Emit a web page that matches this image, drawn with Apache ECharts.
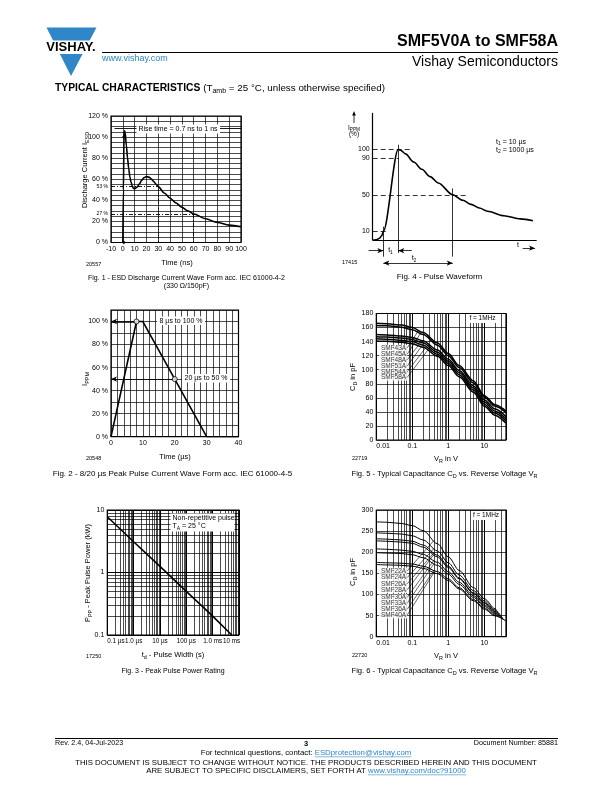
<!DOCTYPE html>
<html><head><meta charset="utf-8">
<script src="https://cdn.jsdelivr.net/npm/echarts@6/dist/echarts.min.js"></script>
<style>html,body{margin:0;padding:0;background:#fff}#c{width:612px;height:792px}</style>
</head><body><div id="c"></div>
<script>
// ---------------- DATA ----------------
// Fig. 1 - ESD discharge current wave form
const fig1Time    = [0, 0.5, 1, 1.5, 2, 3, 4, 5, 6, 7, 8, 9, 10, 12, 14, 16, 18, 20, 22, 24, 26, 28, 30, 35, 40, 45, 50, 55, 60, 70, 80, 90, 100];
const fig1Current = [0, 50, 100, 106, 104, 92, 80, 70, 62, 57, 53.5, 51.5, 51, 52.5, 55.5, 59, 61.5, 62.5, 62, 60.5, 58, 55.5, 53, 47, 42, 37.5, 33.5, 30, 27, 22.5, 19, 16.5, 15];
// Fig. 2 - 8/20 us pulse
const fig2Time    = [0, 8, 10, 30, 40];
const fig2Current = [0, 100, 100, 0, 0];
const fig2Marks   = [[8, 100], [20, 50]];
// Fig. 3 - Peak pulse power rating (pulse width in us, power in kW)
const fig3Width = [0.1, 1, 10, 100, 1000, 5300];
const fig3Power = [7.8, 3.1, 1.25, 0.5, 0.2, 0.1];
// Fig. 4 - Pulse waveform (relative time units, %)
const fig4Time    = [0, 2, 4, 5.5, 6.5, 15.6, 17, 20, 25, 30, 35, 40, 48.8, 55, 60, 65, 70, 80, 90, 97.7];
const fig4Current = [0, 0.5, 2, 5, 10, 100, 99, 95, 86, 78, 70, 63, 50, 44, 39.5, 35.5, 32, 27, 23.5, 21.5];
// Fig. 5 - capacitance vs reverse voltage
const fig5Voltage = [0.01, 0.02, 0.05, 0.1, 0.2, 0.5, 1, 2, 5, 10, 20, 40];
const fig5Names   = ['SMF43A', 'SMF45A', 'SMF48A', 'SMF51A', 'SMF54A', 'SMF58A'];
const fig5SMF43A  = [166, 165.5, 163.5, 160, 153, 138, 123, 106, 84, 63, 50, 41];
const fig5SMF45A  = [163, 162.5, 160.5, 157, 150, 135, 120, 103, 81, 61, 48, 39];
const fig5SMF48A  = [150, 149.5, 148, 146, 141, 128, 115, 99, 77, 57, 44, 33];
const fig5SMF51A  = [147, 146.5, 145, 143, 138, 125, 112, 96, 74, 54, 41, 30];
const fig5SMF54A  = [144, 143.5, 142, 140, 135, 122, 109, 93, 71, 51, 38, 27];
const fig5SMF58A  = [141, 140.5, 139, 137, 132, 119, 106, 90, 68, 48, 35, 24];
const fig5LabelV  = 0.072;
const fig5LabelC  = [131, 122, 114, 105, 97, 89];
const fig5LeaderV = [0.15, 0.17, 0.19, 0.21, 0.24, 0.27];
const fig5LeaderC = [156, 152, 142, 138, 132, 128];
// Fig. 6 - capacitance vs reverse voltage (last value is at the end voltage)
const fig6Voltage    = [0.01, 0.02, 0.05, 0.1, 0.2, 0.5, 1, 2, 5, 10, 20];
const fig6Names      = ['SMF22A', 'SMF24A', 'SMF26A', 'SMF28A', 'SMF30A', 'SMF33A', 'SMF36A', 'SMF40A'];
const fig6EndVoltage = [22, 24, 26, 28, 30, 33, 36, 40];
const fig6SMF22A = [272, 271, 268, 263, 251, 220, 189, 157, 116, 90, 66, 63];
const fig6SMF24A = [246, 245, 243, 239, 229, 203, 175, 146, 109, 85, 63, 59];
const fig6SMF26A = [232, 231, 229, 226, 217, 193, 167, 139, 104, 81, 60, 55];
const fig6SMF28A = [227, 226, 224, 221, 212, 189, 164, 137, 102, 79, 59, 52];
const fig6SMF30A = [208, 207, 205, 202, 195, 176, 154, 129, 97, 75, 56, 48];
const fig6SMF33A = [199, 198, 197, 194, 187, 169, 148, 124, 93, 72, 54, 44];
const fig6SMF36A = [176, 175, 174, 172, 167, 154, 137, 116, 88, 68, 51, 40];
const fig6SMF40A = [171, 170, 169, 167, 162, 149, 133, 113, 85, 65, 49, 37];
const fig6LabelV  = 0.072;
const fig6LabelC  = [156, 140, 125, 111, 93, 79, 65, 51];
const fig6LeaderV = [0.4, 0.4, 0.4, 0.4, 0.4, 0.4, 0.4, 0.4];
const fig6LeaderC = [228, 209, 199, 195, 181, 173, 157, 152];
// tick label texts
const fig3XLabels = {'0.1': '0.1 µs', '1': '1.0 µs', '10': '10 µs', '100': '100 µs', '1000': '1.0 ms', '10000': '{r|10 ms}'};
const fig3YLabels = {'0.1': '0.1', '1': '1', '10': '10'};
const capXLabels  = {'0.01': '0.01', '0.1': '0.1', '1': '1', '10': '10'};

// ---------------- HELPERS ----------------
const FONT = '"Liberation Sans", Arial, sans-serif';
const BLUE = '#2f86c8';
const ctx = document.createElement('canvas').getContext('2d');
function tw(t, size, bold) { ctx.font = (bold ? 'bold ' : '') + size + 'px "Liberation Sans"'; return ctx.measureText(t).width; }
function zip(a, b) { return a.map((v, i) => [v, b[i]]); }
function richStyles(size, color) {
  const c = color || '#000';
  return {
    n: {fontSize: size, lineHeight: size * 1.2, verticalAlign: 'middle', fontFamily: FONT, fill: c},
    s: {fontSize: size * 0.72, lineHeight: size * 0.86, padding: [size * 0.6, 0, 0, 0], verticalAlign: 'middle', fontFamily: FONT, fill: c},
    b: {fontSize: size, lineHeight: size * 1.2, verticalAlign: 'middle', fontFamily: FONT, fontWeight: 'bold', fill: c}
  };
}
function txt(x, y, text, o) {
  o = o || {};
  const st = {text: text, fontSize: o.size || 7, fontFamily: FONT, fontWeight: o.bold ? 'bold' : 'normal',
    fill: o.color || '#000', align: o.align || 'left', verticalAlign: o.va || 'middle'};
  if (o.rich) st.rich = richStyles(o.size || 7, o.color);
  return {type: 'text', x: x, y: y, rotation: o.rot || 0, z: 100, silent: true, style: st};
}
function rect(x, y, w, h) { return {type: 'rect', shape: {x: x, y: y, width: w, height: h}, style: {fill: '#fff'}, z: 99, silent: true}; }
function hline(x1, y1, x2, y2, w, color) { return {type: 'line', shape: {x1: x1, y1: y1, x2: x2, y2: y2}, style: {stroke: color || '#000', lineWidth: w || 1}, z: 100, silent: true}; }
function logMinor(fromExp, toExp, maxV) {
  const out = [];
  for (let e = fromExp; e < toExp; e++) for (let k = 2; k <= 9; k++) { const v = +(k * Math.pow(10, e)).toPrecision(3); if (v < maxV) out.push(v); }
  return out;
}
const splitLS = {show: true, lineStyle: {color: '#000', width: 0.7}};
const lbl = {fontSize: 7, color: '#000', fontFamily: FONT, margin: 3, showMinLabel: true, showMaxLabel: true, hideOverlap: false};
function gridOf(left, top, width, height, show) {
  return {left: left, top: top, width: width, height: height, show: show, borderColor: '#000', borderWidth: 1.2,
    containLabel: false, outerBoundsMode: 'none'};
}
function valAxis(gi, min, max, interval, fmt, extra) {
  return Object.assign({gridIndex: gi, type: 'value', min: min, max: max, interval: interval,
    axisLine: {show: false}, axisTick: {show: false}, splitLine: splitLS,
    axisLabel: Object.assign({}, lbl, {formatter: fmt})}, extra || {});
}
function logFmt(map) { return function (v) { const k = String(+(+v).toPrecision(3)); return map[k] !== undefined ? map[k] : ''; }; }
function logAxis(gi, min, max, map, extraLabel) {
  return {gridIndex: gi, type: 'log', logBase: 10, min: min, max: max,
    axisLine: {show: false}, axisTick: {show: false}, splitLine: {show: true, lineStyle: {color: '#000', width: 1}},
    axisLabel: Object.assign({}, lbl, {formatter: logFmt(map)}, extraLabel || {})};
}
const ML = function (data, extra) { return Object.assign({silent: true, symbol: 'none', symbolSize: [4, 6], animation: false, label: {show: false}, lineStyle: {color: '#000', width: 0.7, type: 'solid'}, data: data}, extra || {}); };
const dashdot = {color: '#000', width: 0.9, type: [4, 2, 1, 2]};
const dashed = {color: '#000', width: 0.8, type: [5, 3]};
const solid = function (w) { return {color: '#000', width: w || 0.8, type: 'solid'}; };
const startLbl = function (t, size) { return {show: true, position: 'start', formatter: t, fontSize: size || 7, color: '#000', fontFamily: FONT, distance: 3}; };

// ---------------- SERIES ----------------
const series = [];
// Fig 1
series.push({type: 'line', xAxisIndex: 0, yAxisIndex: 0, data: zip(fig1Time, fig1Current), symbol: 'none', smooth: 0.3, smoothMonotone: 'x',
  lineStyle: {color: '#000', width: 1.6}, z: 5,
  markLine: ML([
    [{coord: [-10, 53], lineStyle: dashdot, label: startLbl('53 %', 5)}, {coord: [30, 53]}],
    [{coord: [30, 53], lineStyle: {color: '#000', width: 0.9, type: [1.5, 1.5]}}, {coord: [30, 0]}],
    [{coord: [-10, 27], lineStyle: dashdot, label: startLbl('27 %', 5)}, {coord: [60, 27]}],
    [{coord: [60, 27], lineStyle: dashdot}, {coord: [60, 0]}],
    [{coord: [-7, 108], lineStyle: solid(0.9)}, {coord: [100, 108]}]
  ])});
series.push({type: 'scatter', xAxisIndex: 0, yAxisIndex: 0, data: [[0.9, 0], [0.9, 100]], symbol: 'diamond', symbolSize: 4,
  itemStyle: {color: '#000'}, silent: true, z: 6});
// Fig 4
series.push({type: 'line', xAxisIndex: 1, yAxisIndex: 1, data: zip(fig4Time, fig4Current), symbol: 'none', smooth: 0.3, smoothMonotone: 'x',
  lineStyle: {color: '#000', width: 1.6}, z: 5,
  markLine: ML([
    [{coord: [0, 0], lineStyle: solid(1.2)}, {coord: [0, 140]}],
    [{coord: [0, 0], lineStyle: solid(1.2)}, {coord: [100, 0]}],
    [{coord: [0, 100], lineStyle: dashed, label: startLbl('100')}, {coord: [22.7, 100]}],
    [{coord: [0, 90], lineStyle: dashed, label: startLbl('90')}, {coord: [15.6, 90]}],
    [{coord: [0, 50], lineStyle: dashed, label: startLbl('50')}, {coord: [57.3, 50]}],
    [{coord: [0, 10], lineStyle: dashed, label: startLbl('10')}, {coord: [8.5, 10]}],
    [{coord: [6.5, 15], lineStyle: solid(0.8)}, {coord: [6.5, -18]}],
    [{coord: [15.6, 105], lineStyle: solid(0.8)}, {coord: [15.6, -14]}],
    [{coord: [48.8, 57], lineStyle: solid(0.8)}, {coord: [48.8, -18]}],
    [{coord: [-2.5, -11.4], lineStyle: solid(0.8)}, {coord: [6.5, -11.4], symbol: 'arrow'}],
    [{coord: [23.8, -11.4], lineStyle: solid(0.8)}, {coord: [15.6, -11.4], symbol: 'arrow'}],
    [{coord: [6.5, -25], symbol: 'arrow', lineStyle: solid(0.8)}, {coord: [48.8, -25], symbol: 'arrow'}],
    [{coord: [91.5, -8.6], lineStyle: solid(0.8)}, {coord: [99, -8.6], symbol: 'arrow'}]
  ])});
// Fig 2
series.push({type: 'line', xAxisIndex: 2, yAxisIndex: 2, data: zip(fig2Time, fig2Current), symbol: 'none',
  lineStyle: {color: '#000', width: 1.6}, z: 5,
  markLine: ML([
    [{coord: [8, 100], lineStyle: solid(1.5)}, {coord: [0, 100], symbol: 'arrow'}],
    [{coord: [20, 50], lineStyle: solid(0.8)}, {coord: [0, 50], symbol: 'arrow'}]
  ])});
series.push({type: 'scatter', xAxisIndex: 2, yAxisIndex: 2, data: fig2Marks, symbol: 'circle', symbolSize: 5,
  itemStyle: {color: '#fff', borderColor: '#000', borderWidth: 1}, silent: true, z: 7});
// Fig 5
const fig5Curves = [fig5SMF43A, fig5SMF45A, fig5SMF48A, fig5SMF51A, fig5SMF54A, fig5SMF58A];
const capMinor = logMinor(-2, 2, 40).map(v => ({xAxis: v}));
fig5Names.forEach(function (name, i) {
  series.push({name: name, type: 'line', xAxisIndex: 3, yAxisIndex: 3, data: zip(fig5Voltage, fig5Curves[i]), symbol: 'none',
    smooth: 0.3, smoothMonotone: 'x', lineStyle: {color: '#000', width: 1.5}, z: 5,
    markLine: ML([[{coord: [fig5LabelV, fig5LabelC[i]], lineStyle: solid(0.6)}, {coord: [fig5LeaderV[i], fig5LeaderC[i]]}]]
      .concat(i === 0 ? capMinor : []))});
});
series.push({type: 'scatter', xAxisIndex: 3, yAxisIndex: 3, symbolSize: 0, silent: true, z: 8,
  data: fig5Names.map((n, i) => ({name: n, value: [fig5LabelV, fig5LabelC[i]]})),
  label: {show: true, position: 'left', distance: 0, formatter: '{b}', fontSize: 6.5, lineHeight: 6.4, fontFamily: FONT, color: '#000', backgroundColor: '#fff', padding: [0, 1, 0, 2]}});
// Fig 3
const f3MinorX = logMinor(-1, 4, 10000).map(v => ({xAxis: v}));
const f3MinorY = logMinor(-1, 1, 10).map(v => ({yAxis: v}));
series.push({type: 'line', xAxisIndex: 4, yAxisIndex: 4, data: zip(fig3Width, fig3Power), symbol: 'none',
  lineStyle: {color: '#000', width: 1.6}, z: 5,
  markLine: ML(f3MinorX.concat(f3MinorY))});
// Fig 6
const fig6Curves = [fig6SMF22A, fig6SMF24A, fig6SMF26A, fig6SMF28A, fig6SMF30A, fig6SMF33A, fig6SMF36A, fig6SMF40A];
fig6Names.forEach(function (name, i) {
  const c = fig6Curves[i];
  const d = fig6Voltage.map((v, j) => [v, c[j]]).concat([[fig6EndVoltage[i], c[c.length - 1]]]);
  series.push({name: name, type: 'line', xAxisIndex: 5, yAxisIndex: 5, data: d, symbol: 'none',
    smooth: 0.3, smoothMonotone: 'x', lineStyle: {color: '#000', width: 1}, z: 5,
    markLine: ML([[{coord: [fig6LabelV, fig6LabelC[i]], lineStyle: solid(0.6)}, {coord: [fig6LeaderV[i], fig6LeaderC[i]]}]]
      .concat(i === 0 ? capMinor : []))});
});
series.push({type: 'scatter', xAxisIndex: 5, yAxisIndex: 5, symbolSize: 0, silent: true, z: 8,
  data: fig6Names.map((n, i) => ({name: n, value: [fig6LabelV, fig6LabelC[i]]})),
  label: {show: true, position: 'left', distance: 0, formatter: '{b}', fontSize: 6.5, lineHeight: 6.6, fontFamily: FONT, color: '#000', backgroundColor: '#fff', padding: [0, 1, 0, 2]}});

// ---------------- GRAPHIC (page text) ----------------
const g = [];
// header
g.push({type: 'polygon', shape: {points: [[46.5, 27.5], [96.5, 27.5], [71, 76]]}, style: {fill: BLUE}, z: 98, silent: true});
g.push(rect(40, 40.5, 62, 13.5));
g.push(txt(71, 47.5, 'VISHAY.', {size: 13, bold: true, align: 'center'}));
g.push(txt(558, 42, 'SMF5V0A to SMF58A', {size: 16, bold: true, align: 'right'}));
g.push(hline(102, 52.5, 558, 52.5, 1));
g.push(txt(102, 59, 'www.vishay.com', {size: 9, color: BLUE}));
g.push(txt(558, 62, 'Vishay Semiconductors', {size: 14, align: 'right'}));
const tcBold = 'TYPICAL CHARACTERISTICS ';
g.push(txt(55, 88, tcBold, {size: 10.3, bold: true}));
g.push(txt(55 + tw(tcBold, 10.3, true), 88, '{n|(T}{s|amb}{n| = 25 °C, unless otherwise specified)}', {size: 9.8, rich: true}));
// fig 1
g.push(txt(85, 170, '{n|Discharge Current I}{s|ESD}', {size: 7.5, rich: true, rot: Math.PI / 2, align: 'center'}));
g.push(rect(136.5, 124.5, 83.5, 9));
g.push(txt(178, 129, 'Rise time = 0.7 ns to 1 ns', {size: 7, align: 'center'}));
g.push(txt(177, 263, 'Time (ns)', {size: 7.5, align: 'center'}));
g.push(txt(86, 264, '20557', {size: 5.5}));
g.push(txt(186.5, 278, 'Fig. 1 - ESD Discharge Current Wave Form acc. IEC 61000-4-2', {size: 7, align: 'center'}));
g.push(txt(186.5, 286, '(330 Ω/150pF)', {size: 7, align: 'center'}));
// fig 4
g.push(hline(354, 123, 354, 113, 0.8));
g.push({type: 'polygon', shape: {points: [[352.2, 115.5], [355.8, 115.5], [354, 111]]}, style: {fill: '#000'}, z: 100, silent: true});
g.push(txt(354, 128, '{n|I}{s|PPM}', {size: 6.5, rich: true, align: 'center'}));
g.push(txt(354, 134.5, '(%)', {size: 6.5, align: 'center'}));
g.push(txt(496, 142, '{n|t}{s|1}{n| = 10 µs}', {size: 7, rich: true}));
g.push(txt(496, 150, '{n|t}{s|2}{n| = 1000 µs}', {size: 7, rich: true}));
g.push(txt(390.5, 250.5, '{n|t}{s|1}', {size: 7, rich: true, align: 'center'}));
g.push(txt(414, 258.5, '{n|t}{s|2}', {size: 7, rich: true, align: 'center'}));
g.push(txt(518, 245, 't', {size: 7, align: 'center'}));
g.push(txt(342, 262, '17415', {size: 5.5}));
g.push(txt(439.5, 277, 'Fig. 4 - Pulse Waveform', {size: 8, align: 'center'}));
// fig 2
g.push(txt(85, 379, '{n|I}{s|PPM}', {size: 7.5, rich: true, rot: Math.PI / 2, align: 'center'}));
g.push(rect(157, 316.5, 48, 8.5));
g.push(txt(181, 320.8, '8 µs to 100 %', {size: 7, align: 'center'}));
g.push(rect(182, 374, 48, 8.5));
g.push(txt(206, 378.3, '20 µs to 50 %', {size: 7, align: 'center'}));
g.push(txt(175, 457, 'Time (µs)', {size: 7.5, align: 'center'}));
g.push(txt(86, 458, '20548', {size: 5.5}));
g.push(txt(172.5, 474, 'Fig. 2 - 8/20 µs Peak Pulse Current Wave Form acc. IEC 61000-4-5', {size: 8, align: 'center'}));
// fig 5
g.push(txt(353, 377, '{n|C}{s|D}{n| in pF}', {size: 7.5, rich: true, rot: Math.PI / 2, align: 'center'}));
g.push(rect(466, 314, 33, 9));
g.push(txt(482.5, 318.5, 'f = 1MHz', {size: 6.5, align: 'center'}));
g.push(txt(446, 459, '{n|V}{s|R}{n| in V}', {size: 7.5, rich: true, align: 'center'}));
g.push(txt(352, 458, '22719', {size: 5.5}));
g.push(txt(444.5, 474, '{n|Fig. 5 - Typical Capacitance C}{s|D}{n| vs. Reverse Voltage V}{s|R}', {size: 7.6, rich: true, align: 'center'}));
// fig 3
g.push(txt(88, 573, '{n|P}{s|PP}{n| - Peak Pulse Power (kW)}', {size: 7.5, rich: true, rot: Math.PI / 2, align: 'center'}));
g.push(rect(170.5, 513.5, 64, 18));
g.push(txt(172.5, 518.5, 'Non-repetitive pulse', {size: 7}));
g.push(txt(172.5, 526.5, '{n|T}{s|A}{n| = 25 °C}', {size: 7, rich: true}));
g.push(txt(173, 655, '{n|t}{s|d}{n| - Pulse Width (s)}', {size: 7.5, rich: true, align: 'center'}));
g.push(txt(86, 656, '17250', {size: 5.5}));
g.push(txt(173, 671, 'Fig. 3 - Peak Pulse Power Rating', {size: 7, align: 'center'}));
// fig 6
g.push(txt(353, 572, '{n|C}{s|D}{n| in pF}', {size: 7.5, rich: true, rot: Math.PI / 2, align: 'center'}));
g.push(rect(471, 511, 30, 9));
g.push(txt(486, 515.5, 'f = 1MHz', {size: 6.5, align: 'center'}));
g.push(txt(446, 656, '{n|V}{s|R}{n| in V}', {size: 7.5, rich: true, align: 'center'}));
g.push(txt(352, 655, '22720', {size: 5.5}));
g.push(txt(444.5, 671, '{n|Fig. 6 - Typical Capacitance C}{s|D}{n| vs. Reverse Voltage V}{s|R}', {size: 7.6, rich: true, align: 'center'}));
// footer
g.push(hline(55, 738.5, 558, 738.5, 1));
g.push(txt(55, 743, 'Rev. 2.4, 04-Jul-2023', {size: 7.2}));
g.push(txt(306, 744, '3', {size: 7.5, bold: true, align: 'center'}));
g.push(txt(558, 743, 'Document Number: 85881', {size: 7.2, align: 'right'}));
const FS = 7.8;
function linkLine(y, a, b) {
  const wa = tw(a, FS), wb = tw(b, FS), x0 = 306 - (wa + wb) / 2;
  g.push(txt(x0, y, a, {size: FS}));
  g.push(txt(x0 + wa, y, b, {size: FS, color: BLUE}));
  g.push(hline(x0 + wa, y + 4.3, x0 + wa + wb, y + 4.3, 0.6, BLUE));
}
linkLine(752.5, 'For technical questions, contact: ', 'ESDprotection@vishay.com');
g.push(txt(306, 762.5, 'THIS DOCUMENT IS SUBJECT TO CHANGE WITHOUT NOTICE. THE PRODUCTS DESCRIBED HEREIN AND THIS DOCUMENT', {size: FS, align: 'center'}));
linkLine(770.5, 'ARE SUBJECT TO SPECIFIC DISCLAIMERS, SET FORTH AT ', 'www.vishay.com/doc?91000');

// ---------------- OPTION ----------------
const chart = echarts.init(document.getElementById('c'), null, {renderer: 'canvas', width: 612, height: 792});
chart.setOption({
  backgroundColor: '#fff',
  animation: false,
  textStyle: {fontFamily: FONT},
  grid: [
    gridOf(111, 116, 130, 126.5, true),
    gridOf(364.5, 112.9, 172.2, 154.7, false),
    gridOf(111, 310, 127.5, 126.7, true),
    gridOf(376.3, 313.5, 129.7, 126.5, true),
    gridOf(107.3, 510, 131.7, 125, true),
    gridOf(376.3, 510, 129.7, 126.7, true)
  ],
  xAxis: [
    valAxis(0, -10, 100, 10, v => String(v)),
    {gridIndex: 1, type: 'value', min: -5, max: 100, show: false},
    valAxis(2, 0, 40, 2, v => (v % 10 === 0 ? String(v) : '')),
    logAxis(3, 0.01, 40, capXLabels, {alignMinLabel: 'left'}),
    logAxis(4, 0.1, 10000, fig3XLabels, {fontSize: 6.3, alignMinLabel: 'left',
      rich: {r: {fontSize: 6.3, fontFamily: FONT, color: '#000', padding: [0, 15, 0, 0]}}}),
    logAxis(5, 0.01, 40, capXLabels, {alignMinLabel: 'left'})
  ],
  yAxis: [
    valAxis(0, 0, 120, 5, v => (v % 20 === 0 ? v + ' %' : '')),
    {gridIndex: 1, type: 'value', min: -30, max: 140, show: false},
    valAxis(2, 0, 110, 10, v => (v % 20 === 0 && v <= 100 ? v + ' %' : '')),
    valAxis(3, 0, 180, 20, v => String(v)),
    logAxis(4, 0.1, 10, fig3YLabels),
    valAxis(5, 0, 300, 50, v => String(v))
  ],
  series: series,
  graphic: {elements: g}
});
</script></body></html>
